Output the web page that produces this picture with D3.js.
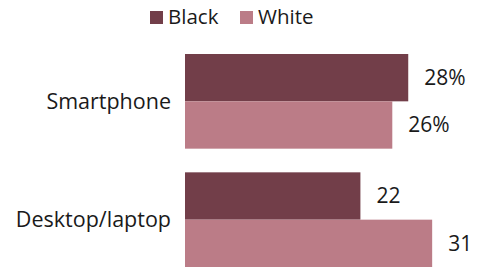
<!DOCTYPE html>
<html>
<head>
<meta charset="utf-8">
<script src="https://cdn.jsdelivr.net/npm/d3@7"></script>
<style>
  body { margin: 0; background: #fff; }
  text { font-family: "Open Sans", "Liberation Sans", Arial, sans-serif; fill: #1a1a1a; }
</style>
</head>
<body>
<script>
var categories = ["Smartphone", "Desktop/laptop"];
var seriesNames = ["Black", "White"];
var blackValues = [28, 22];
var whiteValues = [26, 31];
var blackLabels = ["28%", "22"];
var whiteLabels = ["26%", "31"];
var colors = ["#723e49", "#bb7c87"];

var width = 480, height = 268;
var svg = d3.select("body").append("svg").attr("width", width).attr("height", height);

var rows = [];
for (var i = 0; i < categories.length; i++) {
  rows.push({cat: categories[i], series: "Black", v: blackValues[i], label: blackLabels[i]});
  rows.push({cat: categories[i], series: "White", v: whiteValues[i], label: whiteLabels[i]});
}

var x = d3.scaleLinear().domain([0, 37]).range([185, 480]);
var y0 = d3.scaleBand().domain(categories).range([54, 267]).paddingInner(0.2).paddingOuter(0);
var y1 = d3.scaleBand().domain(seriesNames).range([0, y0.bandwidth()]).padding(0);
var color = d3.scaleOrdinal().domain(seriesNames).range(colors);

svg.selectAll("rect.bar").data(rows).enter().append("rect")
  .attr("class", "bar")
  .attr("x", x(0))
  .attr("y", function(d) { return y0(d.cat) + y1(d.series); })
  .attr("width", function(d) { return x(d.v) - x(0); })
  .attr("height", y1.bandwidth())
  .attr("fill", function(d) { return color(d.series); });

svg.selectAll("text.val").data(rows).enter().append("text")
  .attr("class", "val")
  .attr("x", function(d) { return x(d.v) + 16; })
  .attr("y", function(d) { return y0(d.cat) + y1(d.series) + y1.bandwidth() / 2; })
  .attr("dy", "0.35em")
  .style("font-size", "21px")
  .text(function(d) { return d.label; });

svg.selectAll("text.cat").data(categories).enter().append("text")
  .attr("class", "cat")
  .attr("x", 171)
  .attr("y", function(d) { return y0(d) + y0.bandwidth() / 2; })
  .attr("dy", "0.35em")
  .attr("text-anchor", "end")
  .style("font-size", "21.5px")
  .text(function(d) { return d; });

// legend
var legend = svg.selectAll("g.leg").data(seriesNames).enter().append("g")
  .attr("class", "leg")
  .attr("transform", function(d, i) { return "translate(" + (150 + i * 90) + ",11)"; });
legend.append("rect").attr("width", 13).attr("height", 13)
  .attr("fill", function(d) { return color(d); });
legend.append("text").attr("x", 18).attr("y", 13)
  .style("font-size", "20.5px")
  .text(function(d) { return d; });
</script>
</body>
</html>
